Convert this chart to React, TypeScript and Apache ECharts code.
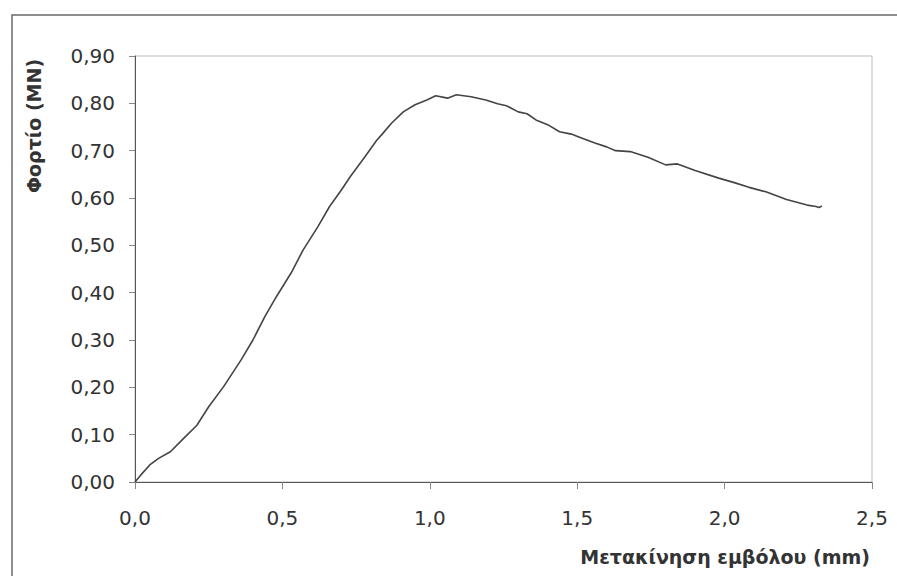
import React, { useEffect, useRef } from "react";
import * as echarts from "echarts";

const displacement = [0, 0.02, 0.05, 0.08, 0.12, 0.16, 0.21, 0.25, 0.30, 0.36, 0.40, 0.44, 0.48, 0.53, 0.57, 0.62, 0.66, 0.70, 0.73, 0.78, 0.82, 0.84, 0.87, 0.91, 0.95, 0.99, 1.02, 1.06, 1.09, 1.14, 1.19, 1.23, 1.26, 1.30, 1.33, 1.36, 1.40, 1.44, 1.48, 1.51, 1.56, 1.60, 1.63, 1.68, 1.74, 1.80, 1.84, 1.90, 1.98, 2.03, 2.08, 2.14, 2.21, 2.28, 2.31, 2.32, 2.33];
const load = [0, 0.015, 0.036, 0.05, 0.064, 0.089, 0.12, 0.159, 0.201, 0.258, 0.30, 0.349, 0.392, 0.442, 0.49, 0.539, 0.582, 0.617, 0.645, 0.687, 0.722, 0.736, 0.758, 0.782, 0.797, 0.807, 0.816, 0.811, 0.818, 0.814, 0.807, 0.799, 0.795, 0.782, 0.778, 0.765, 0.755, 0.74, 0.735, 0.728, 0.716, 0.708, 0.70, 0.698, 0.686, 0.67, 0.672, 0.658, 0.642, 0.633, 0.623, 0.613, 0.597, 0.585, 0.582, 0.58, 0.583];

const yAxisTitle = "Φορτίο (MN)";
const xAxisTitle = "Μετακίνηση εμβόλου (mm)";

export default function App() {
  const ref = useRef<HTMLDivElement>(null);
  useEffect(() => {
    if (!ref.current) return;
    const chart = echarts.init(ref.current, null, { renderer: "svg" });
    const font = "'DejaVu Sans', Arial, sans-serif";
    chart.setOption({
      animation: false,
      backgroundColor: "#ffffff",
      grid: {
        left: 135,
        top: 56,
        right: 25,
        bottom: 94,
        show: true,
        borderColor: "#bdbdbd",
        borderWidth: 1,
        backgroundColor: "transparent",
      },
      xAxis: {
        type: "value",
        min: 0,
        max: 2.5,
        interval: 0.5,
        axisLine: { show: true, onZero: false, lineStyle: { color: "#555", width: 1 } },
        axisTick: { show: true, inside: false, length: 7, lineStyle: { color: "#888" } },
        splitLine: { show: false },
        axisLabel: {
          margin: 26,
          color: "#333",
          fontSize: 20,
          fontFamily: font,
          formatter: (v: number) => v.toFixed(1).replace(".", ","),
        },
      },
      yAxis: {
        type: "value",
        min: 0,
        max: 0.9,
        interval: 0.1,
        axisLine: { show: true, onZero: false, lineStyle: { color: "#555", width: 1 } },
        axisTick: { show: true, inside: false, length: 6, lineStyle: { color: "#888" } },
        splitLine: { show: false },
        axisLabel: {
          margin: 20,
          color: "#333",
          fontSize: 20,
          fontFamily: font,
          formatter: (v: number) => v.toFixed(2).replace(".", ","),
        },
      },
      series: [
        {
          type: "line",
          data: displacement.map((x, i) => [x, load[i]]),
          showSymbol: false,
          symbol: "none",
          lineStyle: { color: "#444", width: 1.6 },
        },
      ],
      graphic: [
        {
          type: "rect",
          shape: { x: 12, y: 15, width: 900, height: 600 },
          style: { fill: "none", stroke: "#6a6a6a", lineWidth: 1.5 },
          silent: true,
        },
        {
          type: "text",
          x: 34,
          y: 126,
          rotation: Math.PI / 2,
          style: {
            text: yAxisTitle,
            font: `bold 19px ${font}`,
            fill: "#333",
            align: "center",
            verticalAlign: "middle",
          },
        },
        {
          type: "text",
          x: 870,
          y: 557,
          style: {
            text: xAxisTitle,
            font: `bold 19px ${font}`,
            fill: "#333",
            align: "right",
            verticalAlign: "middle",
          },
        },
      ],
    });
    return () => chart.dispose();
  }, []);
  return (
    <div
      ref={ref}
      style={{ position: "fixed", left: 0, top: 0, width: 897, height: 576, background: "#fff" }}
    />
  );
}
